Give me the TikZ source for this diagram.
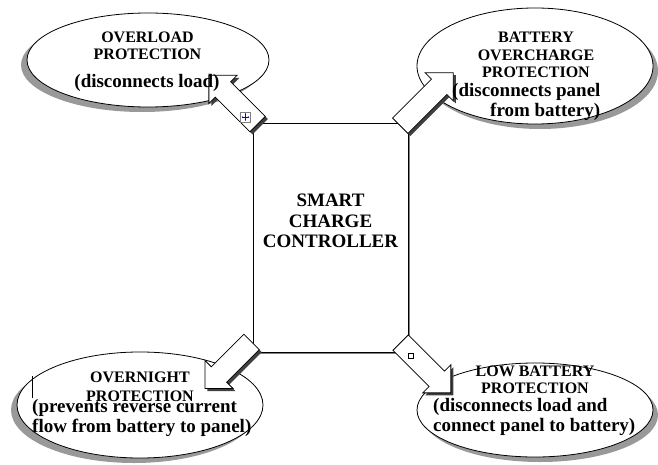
\documentclass[tikz,border=0pt]{standalone}
\usepackage{fontspec}
\setmainfont{Liberation Serif}
\usetikzlibrary{shapes.geometric,shapes.arrows,shadows,calc,arrows.meta}

\begin{document}
\begin{tikzpicture}[x=1pt, y=-1pt,
    bubble/.style={ellipse, draw, fill=white, line width=0.8pt, inner sep=0pt},
    leftshade/.style={drop shadow={shadow xshift=-6pt, shadow yshift=-5pt, fill=black!40, opacity=1}},
    rightshade/.style={drop shadow={shadow xshift=5pt, shadow yshift=-5pt, fill=black!40, opacity=1}},
    blockarrow/.style={single arrow, draw, fill=white, line width=0.8pt, inner xsep=0pt, inner ysep=10.5pt,
        single arrow head extend=9pt, single arrow tip angle=90,
        drop shadow={shadow xshift=2.5pt, shadow yshift=-2.5pt, fill=black!75, opacity=1}},
    title/.style={font=\fontsize{16}{#1}\selectfont\bfseries, align=center, inner sep=0pt},
    note/.style={font=\fontsize{19}{20}\selectfont\bfseries, align=left, inner sep=0pt}
]
    \useasboundingbox (0,0) rectangle (658,465);

    % Bubbles
    \node[bubble, leftshade, minimum width=242pt, minimum height=94pt] (olp) at (148,60) {};
    \node[bubble, rightshade, minimum width=236pt, minimum height=116pt] (ocp) at (535,66) {};
    \node[bubble, leftshade, minimum width=246pt, minimum height=106pt] (onp) at (140,405) {};
    \node[bubble, rightshade, minimum width=236pt, minimum height=94pt] (lbp) at (535,410) {};

    % Controller box
    \node[draw, fill=white, line width=0.8pt, inner sep=0pt, minimum width=155pt, minimum height=229pt,
        drop shadow={shadow xshift=1.5pt, shadow yshift=-1.5pt, fill=black!50, opacity=1}] (ctrl) at (330.5,237.5) {};

    % Block arrows
    \node[blockarrow, minimum height=69pt, rotate=135] (toolp) at ($(ctrl.north west)+(-15.5,-19)$) {};
    \node[blockarrow, minimum height=75pt, rotate=45] (toocp) at ($(ctrl.north east)+(14.5,-19.5)$) {};
    \node[blockarrow, minimum height=66pt, rotate=225] (toonp) at ($(ctrl.south west)+(-20.5,9)$) {};
    \node[blockarrow, minimum height=71pt, rotate=-45] (tolbp) at ($(ctrl.south east)+(13.5,11.5)$) {};

    % Texts
    \node[title=19, font=\fontsize{19}{20.5}\selectfont\bfseries] (ctrltxt) at (330.5,221) {SMART\\CHARGE\\CONTROLLER};

    \node[title=16.5] (olptitle) at (147.5,45.9) {OVERLOAD\\PROTECTION};
    \node[note, anchor=base] (olpnote) at (147,88) {(disconnects load)};

    \node[title=17.5] (ocptitle) at (536,55.1) {BATTERY\\OVERCHARGE\\PROTECTION};
    \node[note, anchor=west] (ocpnote) at (452,102.4) {(disconnects panel\\\hspace*{38pt}from battery)};

    \node[title=19] (onptitle) at (140,387.1) {OVERNIGHT\\PROTECTION};
    \node[note, anchor=west] (onpnote) at (32,418.4) {(prevents reverse current\\flow from battery to panel)};

    \node[title=17] (lbptitle) at (535,380.1) {LOW BATTERY\\PROTECTION};
    \node[note, anchor=west] (lbpnote) at (433,417.4) {(disconnects load and\\connect panel to battery)};

    % Editing marks
    \node[draw=gray, fill=white, line width=0.4pt, inner sep=0pt, minimum size=10pt] (movemark) at (245.5,117) {};
    \draw[blue, line width=0.5pt, {Stealth[length=1.6pt]}-{Stealth[length=1.6pt]}] ($(movemark.center)+(-4,0)$) -- ($(movemark.center)+(4,0)$);
    \draw[blue, line width=0.5pt, {Stealth[length=1.6pt]}-{Stealth[length=1.6pt]}] ($(movemark.center)+(0,-4)$) -- ($(movemark.center)+(0,4)$);
    \node[draw, fill=white, line width=0.4pt, inner sep=0pt, minimum size=5pt] (sizemark) at (410.5,355.5) {};
    \coordinate (cursortop) at (32,376);
    \coordinate (cursorbot) at (32,398);
    \draw[line width=0.7pt] (cursortop) -- (cursorbot);
\end{tikzpicture}
\end{document}
